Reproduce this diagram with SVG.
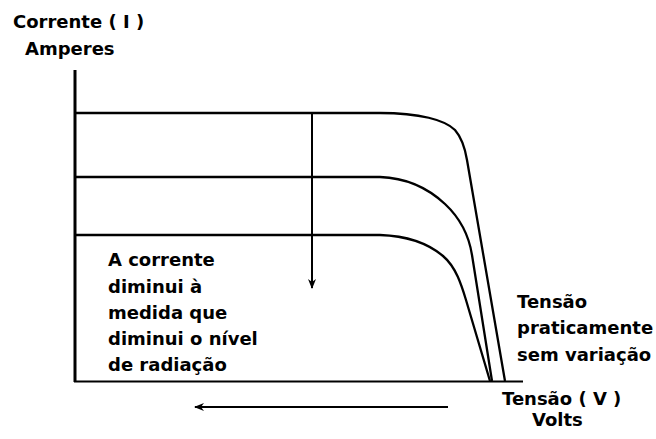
<svg xmlns="http://www.w3.org/2000/svg" width="656" height="439" viewBox="0 0 656 439">
<style>
.t{font-family:"DejaVu Sans","Liberation Sans",sans-serif;font-weight:bold;font-size:18px;fill:#000}
.ax{stroke:#000;stroke-width:3;fill:none}
.ln{stroke:#000;stroke-width:2;fill:none}
.cv{stroke:#000;stroke-width:2.3;fill:none;stroke-linejoin:round}
</style>
<defs>
<marker id="ah" viewBox="0 0 10 10" refX="9" refY="5" markerWidth="10" markerHeight="10" markerUnits="userSpaceOnUse" orient="auto">
<path d="M0,1 L10,5 L0,9 L3,5 Z" fill="#000"/>
</marker>
</defs>
<rect width="656" height="439" fill="#fff"/>
<g id="axes">
<line class="ax" x1="75" y1="70" x2="75" y2="382"/>
<line class="ln" x1="74" y1="381.5" x2="523" y2="381.5"/>
</g>
<g id="curves">
<path class="cv" d="M75,113 H380 C420,113 445,120 455,130 C462,138 465,148 467,160 L505,381"/>
<path class="cv" d="M75,177 H380 C410,178 430,190 445,204 C460,218 469,236 472,255 L492,381"/>
<path class="cv" d="M75,235 H380 C410,236 430,245 443,256 C456,267 461.5,285 466,300 L490,381"/>
</g>
<g id="connectors">
<line class="ln" x1="312" y1="113" x2="312" y2="288" marker-end="url(#ah)" stroke-width="1.5"/>
<line class="ln" x1="448" y1="407" x2="195" y2="407" marker-end="url(#ah)" stroke-width="2.5"/>
</g>
<g id="labels">
<text class="t" x="13" y="28">Corrente ( I )</text>
<text class="t" x="25" y="55">Amperes</text>
<text class="t" x="108" y="266">A corrente</text>
<text class="t" x="108" y="293">diminui à</text>
<text class="t" x="108" y="319">medida que</text>
<text class="t" x="108" y="345">diminui o nível</text>
<text class="t" x="108" y="371">de radiação</text>
<text class="t" x="517" y="308">Tensão</text>
<text class="t" x="517" y="334">praticamente</text>
<text class="t" x="517" y="361">sem variação</text>
<text class="t" x="502" y="405">Tensão ( V )</text>
<text class="t" x="532" y="426">Volts</text>
</g>
</svg>
